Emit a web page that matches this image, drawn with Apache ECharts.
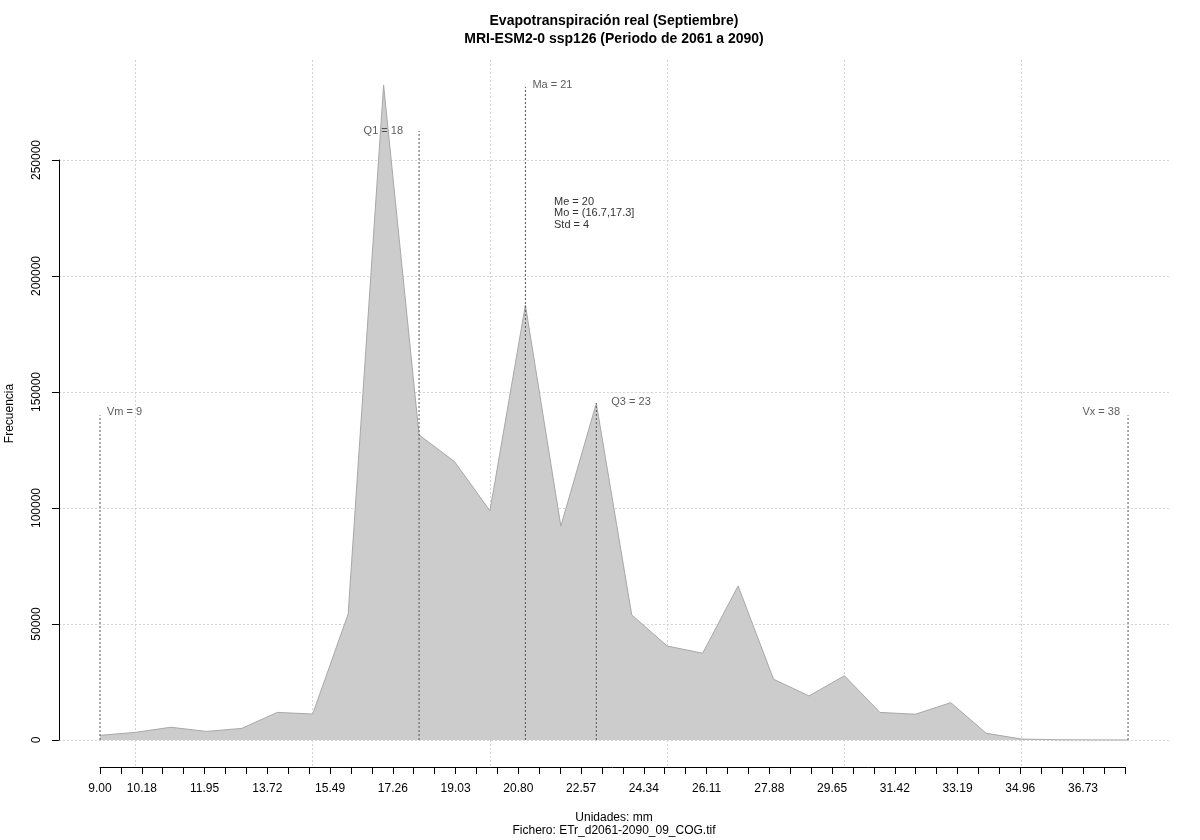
<!DOCTYPE html>
<html><head><meta charset="utf-8">
<script src="https://cdn.jsdelivr.net/npm/echarts@6/dist/echarts.min.js"></script>
<style>html,body{margin:0;padding:0;background:#fff}#c{width:1200px;height:840px}</style>
</head><body><div id="c"></div>
<script>
// ---- data ----
const xValues = [9,10,11,12,13,14,15,16,17,18,19,20,21,22,23,24,25,26,27,28,29,30,31,32,33,34,35,36,37,38];
const frequency = [2000,3300,5500,3700,5000,11900,11200,54300,282300,131500,120000,98800,187500,92200,145100,53900,40500,37400,66400,26200,19000,27700,11900,11100,16100,2900,400,100,50,20];
const xTickLabels = ['9.00','10.18','11.95','13.72','15.49','17.26','19.03','20.80','22.57','24.34','26.11','27.88','29.65','31.42','33.19','34.96','36.73'];
const xTickStep = 0.59;
const xTickCount = 50;
const xGridValues = [10,15,20,25,30,35];
const yTickValues = [0,50000,100000,150000,200000,250000];
const statNames = ['Vm','Q1','Ma','Q3','Vx'];
const statValues = [9,18,21,23,38];
const statLineTops = [140000,262500,281600,145300,140000];
const statText = ['Me = 20','Mo = (16.7,17.3]','Std = 4'];
const titleLines = ['Evapotranspiración real (Septiembre)','MRI-ESM2-0 ssp126 (Periodo de 2061 a 2090)'];
const xTitleLines = ['Unidades: mm','Fichero: ETr_d2061-2090_09_COG.tif'];
const yTitle = 'Frecuencia';

// ---- layout (pixels) ----
const FONT = '"Liberation Sans", Arial, sans-serif';
const pxPerUnit = 35.45, xOriginPx = 100, xOriginVal = 9;
const xPx = v => xOriginPx + (v - xOriginVal) * pxPerUnit;
const plotXMin = 7.84, plotXMax = 39.16;
const plotTop = 60, plotBottom = 767;
const yZeroPx = 740, yPxPerUnit = 0.00232;
const yMinVal = -(plotBottom - yZeroPx) / yPxPerUnit;
const yMaxVal = (yZeroPx - plotTop) / yPxPerUnit;
const yTickMax = yTickValues[yTickValues.length - 1];
const xTickVals = Array.from({length: xTickCount}, (_, k) => +(xOriginVal + k * xTickStep).toFixed(2));
const xTickLast = xTickVals[xTickVals.length - 1];

const labelLayout = {
  Vm: {position: [7, -3], align: 'left'},
  Q1: {position: [-16, 0], align: 'right'},
  Ma: {position: [7, -2], align: 'left'},
  Q3: {position: [15, -1], align: 'left'},
  Vx: {position: [-8, -3], align: 'right'}
};

const chart = echarts.init(document.getElementById('c'), null, {renderer: 'canvas'});
const hiddenAxis = (extra) => Object.assign({show: false}, extra);
const gridBase = {containLabel: false, outerBoundsMode: 'none'};

const series = [{
  type: 'line', xAxisIndex: 0, yAxisIndex: 0,
  data: xValues.map((x, i) => [x, frequency[i]]),
  symbol: 'none', silent: true,
  lineStyle: {color: '#a8a8a8', width: 1},
  areaStyle: {color: '#cccccc', opacity: 1},
  z: 2
}];
statNames.forEach((n, i) => {
  series.push({
    type: 'line', xAxisIndex: 0, yAxisIndex: 0,
    data: [[statValues[i], 0], [statValues[i], statLineTops[i]]],
    symbol: 'none', silent: true,
    lineStyle: {color: '#555555', width: 1, type: [2, 2]},
    z: 3
  });
  series.push({
    type: 'scatter', xAxisIndex: 0, yAxisIndex: 0,
    data: [[statValues[i], statLineTops[i]]],
    symbolSize: 0, silent: true,
    label: {
      show: true, formatter: n + ' = ' + statValues[i],
      position: labelLayout[n].position, align: labelLayout[n].align,
      verticalAlign: 'middle', color: '#333333', fontSize: 11, fontFamily: FONT
    },
    z: 4
  });
});

chart.setOption({
  animation: false,
  backgroundColor: '#ffffff',
  title: [
    {text: titleLines.join('\n'), left: 614, top: 12, textAlign: 'center', padding: 0,
     textStyle: {fontSize: 14, fontWeight: 'bold', color: '#000', fontFamily: FONT, lineHeight: 18}},
    {text: xTitleLines.join('\n'), left: 614, top: 811, textAlign: 'center', padding: 0,
     textStyle: {fontSize: 12, fontWeight: 'normal', color: '#000', fontFamily: FONT, lineHeight: 13}},
    {text: statText.join('\n'), left: 554, top: 196, padding: 0,
     textStyle: {fontSize: 11, fontWeight: 'normal', color: '#333333', fontFamily: FONT, lineHeight: 11.5}}
  ],
  grid: [
    Object.assign({left: xPx(plotXMin), width: xPx(plotXMax) - xPx(plotXMin), top: plotTop, height: plotBottom - plotTop}, gridBase),
    Object.assign({left: xPx(plotXMin), width: xPx(plotXMax) - xPx(plotXMin), top: yZeroPx - yTickMax * yPxPerUnit, height: yTickMax * yPxPerUnit}, gridBase),
    Object.assign({left: xPx(xGridValues[0]), width: xPx(xGridValues[xGridValues.length-1]) - xPx(xGridValues[0]), top: plotTop, height: plotBottom - plotTop}, gridBase),
    Object.assign({left: xPx(xOriginVal), width: xPx(xTickLast) - xPx(xOriginVal), top: plotTop, height: plotBottom - plotTop}, gridBase)
  ],
  xAxis: [
    hiddenAxis({type: 'value', gridIndex: 0, min: plotXMin, max: plotXMax}),
    hiddenAxis({type: 'value', gridIndex: 1, min: 0, max: 1}),
    {type: 'value', gridIndex: 2, min: xGridValues[0], max: xGridValues[xGridValues.length-1], interval: 5,
     axisLine: {show: false}, axisTick: {show: false}, axisLabel: {show: false},
     splitLine: {show: true, lineStyle: {color: '#d3d3d3', width: 1, type: [2, 2]}}},
    {type: 'value', gridIndex: 3, min: xOriginVal, max: xTickLast, position: 'bottom',
     axisLine: {show: true, onZero: false, lineStyle: {color: '#000', width: 1}},
     axisTick: {show: true, inside: false, length: 7, lineStyle: {color: '#000', width: 1}, customValues: xTickVals},
     axisLabel: {show: true, customValues: xTickLabels.map(Number), formatter: v => Number(v).toFixed(2),
                 margin: 16, color: '#000', fontSize: 12, fontFamily: FONT, hideOverlap: false},
     splitLine: {show: false}}
  ],
  yAxis: [
    {type: 'value', gridIndex: 0, min: yMinVal, max: yMaxVal,
     axisLine: {show: false}, axisTick: {show: false}, axisLabel: {show: false}, splitLine: {show: false},
     name: yTitle, nameLocation: 'middle', nameGap: 43, nameRotate: 90,
     nameTextStyle: {fontSize: 12, color: '#000', fontFamily: FONT}},
    {type: 'value', gridIndex: 1, min: 0, max: yTickMax, interval: yTickValues[1] - yTickValues[0],
     axisLine: {show: true, lineStyle: {color: '#000', width: 1}},
     axisTick: {show: true, inside: false, length: 7, lineStyle: {color: '#000', width: 1}},
     axisLabel: {show: true, rotate: 90, margin: 16, color: '#000', fontSize: 12, fontFamily: FONT,
                 formatter: v => String(v)},
     splitLine: {show: true, lineStyle: {color: '#d3d3d3', width: 1, type: [2, 2]}}},
    hiddenAxis({type: 'value', gridIndex: 2, min: 0, max: 1}),
    hiddenAxis({type: 'value', gridIndex: 3, min: 0, max: 1})
  ],
  series: series
});
</script></body></html>
